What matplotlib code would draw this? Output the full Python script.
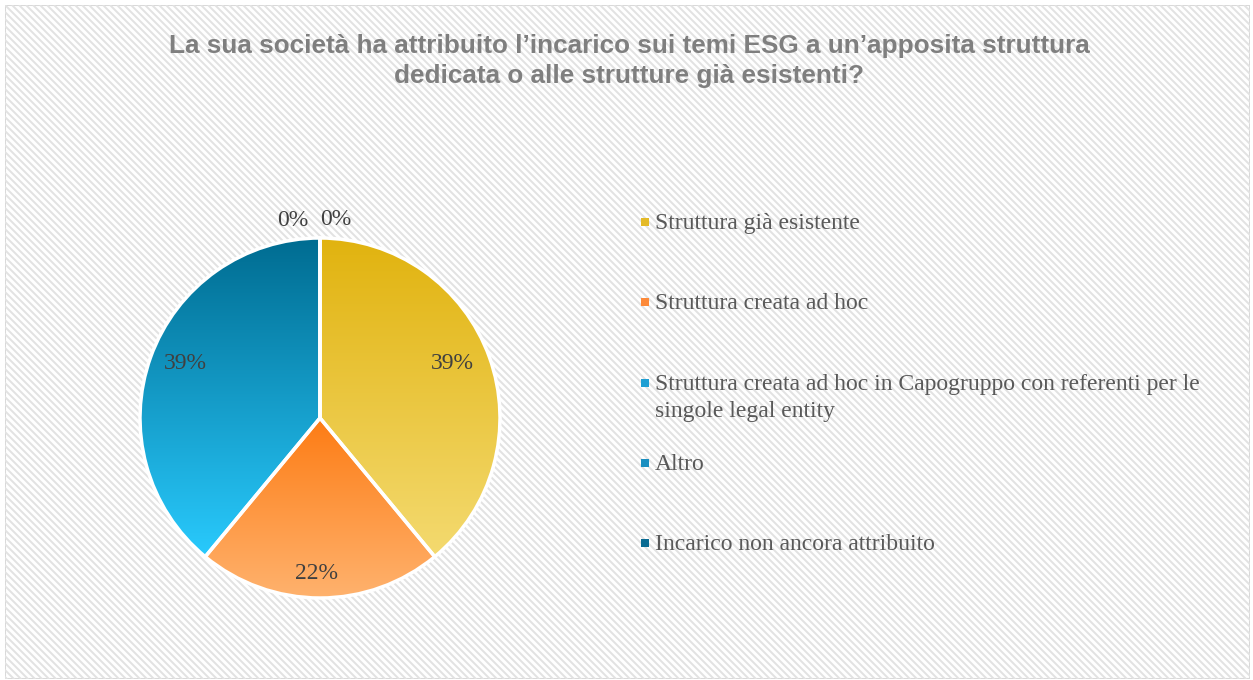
import textwrap
import numpy as np
import matplotlib
matplotlib.use("Agg")
import matplotlib.pyplot as plt
from matplotlib.colors import to_rgb
from matplotlib.patches import Rectangle
from matplotlib.collections import LineCollection

W, H = 1253, 680

title = ("La sua società ha attribuito l’incarico sui temi ESG a un’apposita struttura\n"
         "dedicata o alle strutture già esistenti?")
labels = ["Struttura già esistente",
          "Struttura creata ad hoc",
          "Struttura creata ad hoc in Capogruppo con referenti per le singole legal entity",
          "Altro",
          "Incarico non ancora attribuito"]
values = [39, 22, 39, 0, 0]
# gradient colours (top, bottom) for each slice, and legend marker colour
grad_top = ["#e1b30f", "#fd7c14", "#006c91", "#0a6f98", "#045f85"]
grad_bot = ["#f4da70", "#ffb26e", "#29cafd", "#1a8fc0", "#0a6f98"]
marker_col = ["#e4ba28", "#fd8a3a", "#1f9fd3", "#1a8fc0", "#0b6c93"]

fig = plt.figure(figsize=(W / 100, H / 100), dpi=100)
fig.patch.set_facecolor("white")


def px(x, y):
    return x / W, 1 - y / H


# striped background inside a thin border (pixel coordinates, y down)
bg = fig.add_axes([5 / W, 1 / H, 1245 / W, 674 / H])
bg.set_zorder(0)
bg.set_xlim(0, 1245)
bg.set_ylim(674, 0)
bg.axis("off")
step = 7
segs = [[(c, 0), (c + 700, 700)] for c in np.arange(-700, 1250, step)]
bg.add_collection(LineCollection(segs, colors="#e2e2e2", linewidths=1.4))
bg.add_patch(Rectangle((0, 0), 1245, 674, facecolor="none", edgecolor="#d9d9d9", linewidth=1.5))
# legend panel
bg.add_patch(Rectangle((607, 190), 633, 400, facecolor="white", edgecolor="none", alpha=0.6))

tx, ty = px(629, 34)
fig.text(tx, ty, title, ha="center", va="top", fontsize=18.8, fontweight="bold",
         color="#7f7f7f", family="Liberation Sans", linespacing=1.3, zorder=4)

# pie
cx, cy, r = 320, 418, 180
ax = fig.add_axes([(cx - r) / W, (H - cy - r) / H, 2 * r / W, 2 * r / H])
ax.set_zorder(5)
wedges, _, autotexts = ax.pie(values, startangle=90, counterclock=False, radius=1,
                              autopct="%1.0f%%", pctdistance=0.8,
                              wedgeprops=dict(edgecolor="white", linewidth=2.5, facecolor="none"),
                              textprops=dict(fontsize=17, color="#404040", family="Liberation Serif"))
for i, w in enumerate(wedges):
    w.set_zorder(3)
    if values[i] == 0:
        continue
    verts = w.get_path().vertices
    x0, y0 = verts.min(axis=0)
    x1, y1 = verts.max(axis=0)
    t = np.linspace(0, 1, 256)[:, None]
    c0, c1 = np.array(to_rgb(grad_top[i])), np.array(to_rgb(grad_bot[i]))
    img = (c0 * (1 - t) + c1 * t)[:, None, :]
    im = ax.imshow(img, extent=(x0, x1, y0, y1), origin="upper", aspect="auto",
                   zorder=2, interpolation="bilinear")
    im.set_clip_path(w)
# label nudges (Excel "best fit" placement); zero slices sit outside the rim
nudge = [(-0.02, 0.03), (-0.02, -0.065), (0.005, 0.03)]
zero_pos = [(-0.15, 1.095), (0.09, 1.105)]
k = 0
for i, v in enumerate(values):
    autotexts[i].set_zorder(4)
    if v == 0:
        autotexts[i].set_position(zero_pos[k])
        k += 1
    else:
        x, y = autotexts[i].get_position()
        autotexts[i].set_position((x + nudge[i][0], y + nudge[i][1]))
ax.set_xlim(-1, 1)
ax.set_ylim(-1, 1)
ax.set_aspect("equal")
ax.axis("off")

# legend entries
for i, lab in enumerate(labels):
    y = 212 + 80.3 * i
    mx, my = px(641, y + 6)
    ms = 8
    fig.patches.append(Rectangle((mx, my - ms / H), ms / W, ms / H, transform=fig.transFigure,
                                 facecolor=marker_col[i], edgecolor="none", zorder=3))
    tx, ty = px(655, y + 1)
    fig.text(tx, ty, textwrap.fill(lab, 58), ha="left", va="top", fontsize=17,
             color="#595959", family="Liberation Serif", linespacing=1.38, zorder=4)

fig.savefig("out.png", dpi=100)
